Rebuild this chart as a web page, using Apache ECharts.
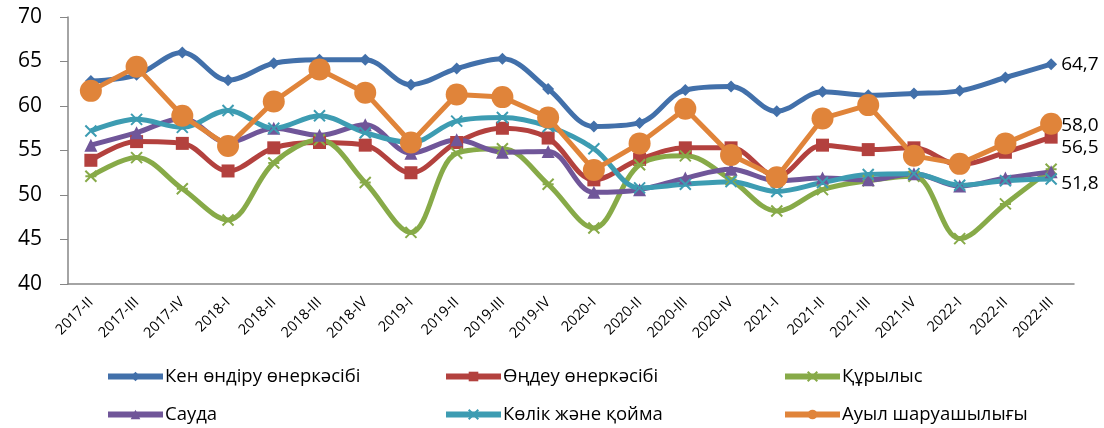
<!DOCTYPE html>
<html>
<head>
<meta charset="utf-8">
<script src="https://cdn.jsdelivr.net/npm/echarts@6/dist/echarts.min.js"></script>
<style>
  html, body { margin: 0; padding: 0; background: #fff; }
  #chart { width: 1104px; height: 428px; }
</style>
</head>
<body>
<div id="chart"></div>
<script>
const categories = ['2017-II', '2017-III', '2017-IV', '2018-I', '2018-II', '2018-III', '2018-IV',
  '2019-I', '2019-II', '2019-III', '2019-IV', '2020-I', '2020-II', '2020-III', '2020-IV',
  '2021-I', '2021-II', '2021-III', '2021-IV', '2022-I', '2022-II', '2022-III']

const mining = [62.8, 63.5, 66.0, 62.9, 64.8, 65.2, 65.2, 62.4, 64.2, 65.3, 61.9, 57.7, 58.1, 61.8, 62.2, 59.4, 61.6, 61.2, 61.4, 61.7, 63.2, 64.7]
const manufacturing = [53.9, 56.0, 55.8, 52.7, 55.3, 55.9, 55.6, 52.5, 55.9, 57.5, 56.4, 51.7, 54.0, 55.3, 55.3, 52.1, 55.6, 55.1, 55.3, 53.4, 54.8, 56.5]
const construction = [52.1, 54.2, 50.7, 47.2, 53.6, 56.2, 51.4, 45.8, 54.7, 55.2, 51.2, 46.3, 53.4, 54.4, 51.7, 48.2, 50.6, 51.6, 52.1, 45.1, 49.0, 52.9]
const trade = [55.6, 57.0, 58.6, 55.9, 57.5, 56.7, 57.9, 54.7, 56.2, 54.8, 54.9, 50.3, 50.6, 51.9, 52.9, 51.6, 51.9, 51.7, 52.4, 51.0, 51.9, 52.6]
const transport = [57.2, 58.5, 57.6, 59.5, 57.5, 58.9, 57.0, 55.9, 58.3, 58.7, 57.7, 55.2, 50.8, 51.2, 51.5, 50.4, 51.4, 52.3, 52.4, 51.1, 51.6, 51.8]
const agriculture = [61.7, 64.4, 58.9, 55.5, 60.5, 64.1, 61.5, 55.9, 61.3, 61.0, 58.7, 52.8, 55.8, 59.7, 54.5, 52.0, 58.6, 60.1, 54.4, 53.5, 55.8, 58.0]

const names = ['Кен өндіру өнеркәсібі', 'Өңдеу өнеркәсібі', 'Құрылыс', 'Сауда', 'Көлік және қойма', 'Ауыл шаруашылығы']

const font = '"Open Sans", "Noto Sans", sans-serif'

function makeSeries(name, data, color, symbol, symbolSize, opts) {
  return Object.assign({
    name: name,
    type: 'line',
    data: data,
    smooth: 0.35,
    symbol: symbol,
    symbolSize: symbolSize,
    lineStyle: { color: color, width: 5 },
    itemStyle: { color: color },
    emphasis: { disabled: true }
  }, opts || {})
}

function endLabel(dy) {
  return {
    show: true,
    distance: 10,
    offset: [0, dy],
    fontFamily: font,
    fontSize: 19,
    color: '#000',
    formatter: (p) => Number(p.value).toFixed(1).replace('.', ',')
  }
}

const xPath = 'path://M0,0L10,10M10,0L0,10'
const starPath = 'path://M0,0L10,10M10,0L0,10M0,5L10,5'

// legend: 3 columns x 2 rows
const legendPos = [[105, 367], [443, 367], [782, 367], [105, 405], [443, 405], [782, 405]]

const chart = echarts.init(document.getElementById('chart'))
chart.setOption({
  animation: false,
  textStyle: { fontFamily: font },
  grid: { left: 68, right: 30, top: 17, bottom: 144 },
  legend: names.map((n, i) => ({
    data: [n],
    left: legendPos[i][0],
    top: legendPos[i][1],
    padding: 0,
    itemWidth: 55,
    itemHeight: 12,
    itemGap: 4,
    lineStyle: { width: 6 },
    textStyle: { fontFamily: font, fontSize: 18.5, color: '#000', padding: [0, 0, 0, -3] }
  })),
  xAxis: {
    type: 'category',
    data: categories,
    axisLine: { lineStyle: { color: '#868686', width: 1.5 } },
    axisTick: { length: 5, lineStyle: { color: '#868686' } },
    axisLabel: { rotate: 45, fontSize: 14.5, color: '#000', interval: 0, margin: 16 }
  },
  yAxis: {
    type: 'value',
    min: 40,
    max: 70,
    interval: 5,
    splitLine: { show: false },
    axisLine: { show: true, lineStyle: { color: '#868686', width: 1.5 } },
    axisTick: { show: true, length: 8, lineStyle: { color: '#868686' } },
    axisLabel: { fontSize: 21, color: '#000', margin: 26 }
  },
  series: [
    makeSeries(names[0], mining, '#4270aa', 'diamond', 12, { endLabel: endLabel(0) }),
    makeSeries(names[1], manufacturing, '#b3413e', 'rect', 13, { endLabel: endLabel(10) }),
    makeSeries(names[2], construction, '#87aa48', starPath, 11,
      { itemStyle: { color: '#87aa48', borderColor: '#87aa48', borderWidth: 2 } }),
    makeSeries(names[3], trade, '#705699', 'triangle', 13),
    makeSeries(names[4], transport, '#3d9cb2', xPath, 11,
      { itemStyle: { color: '#3d9cb2', borderColor: '#3d9cb2', borderWidth: 2 }, endLabel: endLabel(5) }),
    makeSeries(names[5], agriculture, '#e0843a', 'circle', 22, { smooth: false, endLabel: endLabel(2) })
  ]
})
</script>
</body>
</html>
